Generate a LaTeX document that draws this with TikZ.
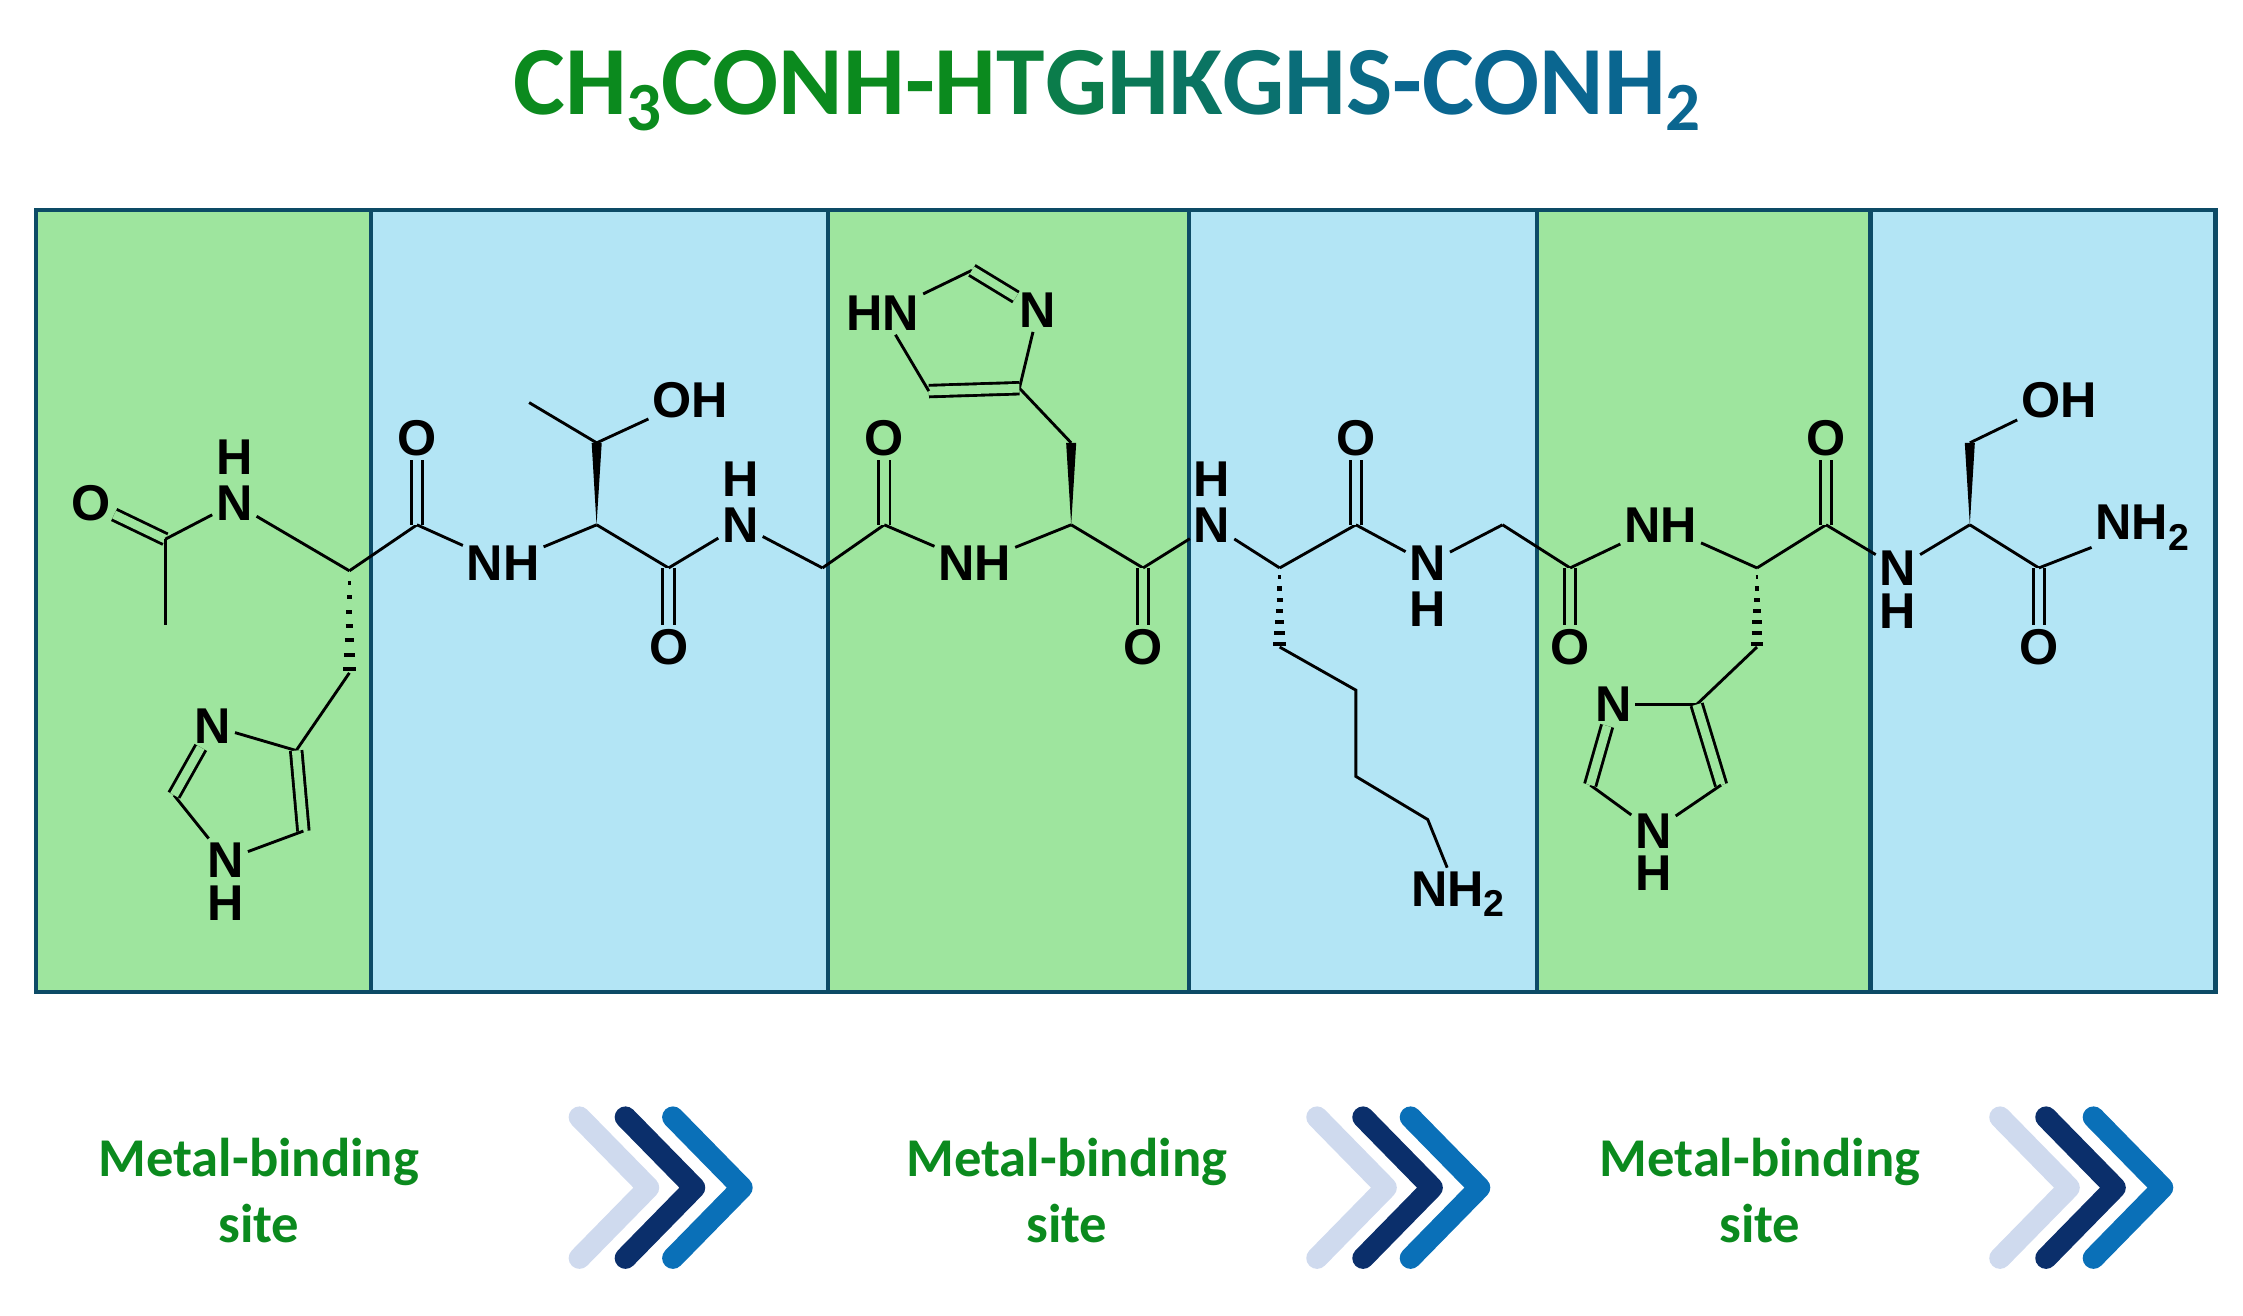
\documentclass[tikz,border=0pt]{standalone}
\usepackage{fontspec}
\usetikzlibrary{calc}
\setmainfont{Carlito}
\newfontfamily\chemf{Liberation Sans}
\definecolor{pg}{HTML}{9EE59E}
\definecolor{pb}{HTML}{B3E5F5}
\definecolor{frame}{HTML}{0D4B66}
\definecolor{tg}{HTML}{0B8A1E}
\definecolor{tb}{HTML}{0A6690}
\definecolor{chl}{HTML}{CFDAEE}
\definecolor{chn}{HTML}{0B2F6B}
\definecolor{chb}{HTML}{0A70B8}
\newcommand{\tl}[2]{{\color{tg!#1!tb}#2}}
\newcommand{\tsub}[2]{{\color{tg!#1!tb}\raisebox{-0.35ex}{\fontsize{24}{24}\selectfont #2}}}
\begin{document}
\begin{tikzpicture}[x=0.5pt,y=-0.5pt,
  bond/.style={line width=1pt,black},
  lbl/.style={font=\chemf\bfseries\fontsize{17.5}{17.5}\selectfont,inner sep=1.2pt},
  dg/.style={bond,double=pg,double distance=3pt},
  db/.style={bond,double=pb,double distance=3pt},
  chev/.style={line width=7.5pt,line cap=round,line join=round},
  site/.style={font=\bfseries\fontsize{19}{23}\selectfont,text=tg,align=center}]
\useasboundingbox (0,0) rectangle (1560,915);
% panels
\fill[pg] (25,146) rectangle (258,690);
\fill[pb] (258,146) rectangle (576,690);
\fill[pg] (576,146) rectangle (827,690);
\fill[pb] (827,146) rectangle (1069,690);
\fill[pg] (1069,146) rectangle (1301,690);
\fill[pb] (1301,146) rectangle (1541,690);
\draw[frame,line width=1.6pt] (25,146) rectangle (1541,690);
\foreach \x in {258,576,827,1069,1301} \draw[frame,line width=1.6pt] (\x,146) -- (\x,690);
% title
\node[font=\bfseries\fontsize{34}{40}\selectfont,inner sep=0] (title) at (770,63)
 {\tl{100}{CH}\tsub{100}{3}\tl{100}{CONH-H}\tl{75}{T}\tl{60}{G}\tl{50}{H}\tl{40}{K}\tl{30}{G}\tl{20}{H}\tl{10}{S}\tl{0}{-CONH}\tsub{0}{2}};
% ---------- labels ----------
\node[lbl] (o0) at (63,350) {O};
\node[lbl] (n1) at (163,350) {N};
\node[lbl] (h1) at (163,318) {H};
\node[lbl] (o1) at (290,305) {O};
\node[lbl] (n2) at (350,392) {NH};
\node[lbl] (oh2) at (480,278) {OH};
\node[lbl] (o2) at (465,450) {O};
\node[lbl] (n3) at (515,365) {N};
\node[lbl] (h3) at (515,333) {H};
\node[lbl] (o3) at (615,305) {O};
\node[lbl] (n4) at (678,392) {NH};
\node[lbl] (o4) at (795,450) {O};
\node[lbl] (n5) at (843,365) {N};
\node[lbl] (h5) at (843,333) {H};
\node[lbl] (o5) at (943,305) {O};
\node[lbl] (n6) at (993,392) {N};
\node[lbl] (h6) at (993,424) {H};
\node[lbl] (o6) at (1092,450) {O};
\node[lbl] (n7) at (1155,365) {NH};
\node[lbl] (o7) at (1270,305) {O};
\node[lbl] (n8) at (1320,395) {N};
\node[lbl] (h8) at (1320,425) {H};
\node[lbl] (oh8) at (1432,278) {OH};
\node[lbl] (o8) at (1418,450) {O};
\node[lbl] (nh8) at (1490,367) {NH\raisebox{-0.4ex}{\fontsize{13}{13}\selectfont 2}};
\node[lbl] (nk) at (1014,622) {NH\raisebox{-0.4ex}{\fontsize{13}{13}\selectfont 2}};
% ring labels
\node[lbl] (r1n3) at (148,505) {N};
\node[lbl] (r1n1) at (157,598) {N};
\node[lbl] (r1h) at (157,628) {H};
\node[lbl] (r2n1) at (614,218) {HN};
\node[lbl] (r2n3) at (722,216) {N};
\node[lbl] (r3n3) at (1122,490) {N};
\node[lbl] (r3n1) at (1150,578) {N};
\node[lbl] (r3h) at (1150,607) {H};
% ---------- carbons ----------
\coordinate (c0) at (115,375);
\coordinate (me) at (115,435);
\coordinate (a1) at (243,397);
\coordinate (hb1) at (243,468);
\coordinate (c1) at (290,365);
\coordinate (a2) at (415,365);
\coordinate (b2) at (415,308);
\coordinate (g2) at (368,280);
\coordinate (c2) at (465,395);
\coordinate (a3) at (572,395);
\coordinate (c3) at (615,365);
\coordinate (a4) at (745,365);
\coordinate (b4) at (745,308);
\coordinate (c4) at (795,395);
\coordinate (a5) at (890,395);
\coordinate (hb5) at (890,450);
\coordinate (k1) at (943,480);
\coordinate (k2) at (943,540);
\coordinate (k3) at (993,570);
\coordinate (c5) at (943,365);
\coordinate (a6) at (1045,365);
\coordinate (c6) at (1092,395);
\coordinate (a7) at (1222,395);
\coordinate (hb7) at (1222,450);
\coordinate (c7) at (1270,365);
\coordinate (a8) at (1370,365);
\coordinate (b8) at (1370,308);
\coordinate (c8) at (1418,395);
% ring carbons
\coordinate (r1c4) at (206,522);
\coordinate (r1c5) at (211,578);
\coordinate (r1c2) at (121,553);
\coordinate (r2c2) at (676,188);
\coordinate (r2c4) at (709,270);
\coordinate (r2c5) at (646,272);
\coordinate (r3c4) at (1180,490);
\coordinate (r3c5) at (1197,546);
\coordinate (r3c2) at (1106,546);
% ---------- bonds ----------
\draw[dg] (c0) -- (o0);
\draw[bond] (c0) -- (me);
\draw[bond] (c0) -- (n1);
\draw[bond] (n1) -- (a1);
\draw[bond] (a1) -- (c1);
\draw[db] (c1) -- (o1);
\draw[bond] (c1) -- (n2);
\draw[bond] (n2) -- (a2);
\draw[bond] (a2) -- (c2);
\draw[db] (c2) -- (o2);
\draw[bond] (c2) -- (n3);
\draw[bond] (n3) -- (a3);
\draw[bond] (a3) -- (c3);
\draw[dg] (c3) -- (o3);
\draw[bond] (c3) -- (n4);
\draw[bond] (n4) -- (a4);
\draw[bond] (a4) -- (c4);
\draw[dg] (c4) -- (o4);
\draw[bond] (c4) -- (n5);
\draw[bond] (n5) -- (a5);
\draw[bond] (a5) -- (c5);
\draw[db] (c5) -- (o5);
\draw[bond] (c5) -- (n6);
\draw[bond] (n6) -- (a6);
\draw[bond] (a6) -- (c6);
\draw[dg] (c6) -- (o6);
\draw[bond] (c6) -- (n7);
\draw[bond] (n7) -- (a7);
\draw[bond] (a7) -- (c7);
\draw[dg] (c7) -- (o7);
\draw[bond] (c7) -- (n8);
\draw[bond] (n8) -- (a8);
\draw[bond] (a8) -- (c8);
\draw[db] (c8) -- (o8);
\draw[bond] (c8) -- (nh8);
% Thr side chain
\fill ($(a2)+(-0.1,0)$) -- ($(b2)+(-3.5,0)$) -- ($(b2)+(3.5,0)$) -- cycle;
\draw[bond] (b2) -- (g2);
\draw[bond] (b2) -- (oh2);
% His4 side chain
\fill (a4) -- ($(b4)+(-3.5,0)$) -- ($(b4)+(3.5,0)$) -- cycle;
\draw[bond] (b4) -- (r2c4);
% Ser side chain
\fill (a8) -- ($(b8)+(-3.5,0)$) -- ($(b8)+(3.5,0)$) -- cycle;
\draw[bond] (b8) -- (oh8);
% hashed bonds
\foreach \s/\e in {a1/hb1,a5/hb5,a7/hb7}{
  \foreach \t in {0.12,0.26,...,1.0}{
    \draw[line width=1.4pt] ($(\s)!\t!(\e)+(-4*\t-0.5,0)$) -- ($(\s)!\t!(\e)+(4*\t+0.5,0)$);
  }
}
\draw[bond] (hb1) -- (r1c4);
\draw[bond] (hb5) -- (k1) -- (k2) -- (k3) -- (nk);
\draw[bond] (hb7) -- (r3c4);
% ring 1
\draw[bond] (r1n3) -- (r1c4);
\draw[dg] (r1c4) -- (r1c5);
\draw[bond] (r1c5) -- (r1n1);
\draw[bond] (r1n1) -- (r1c2);
\draw[dg] (r1c2) -- (r1n3);
% ring 2
\draw[bond] (r2n1) -- (r2c2);
\draw[dg] (r2c2) -- (r2n3);
\draw[bond] (r2n3) -- (r2c4);
\draw[dg] (r2c4) -- (r2c5);
\draw[bond] (r2c5) -- (r2n1);
% ring 3
\draw[bond] (r3n3) -- (r3c4);
\draw[dg] (r3c4) -- (r3c5);
\draw[bond] (r3c5) -- (r3n1);
\draw[bond] (r3n1) -- (r3c2);
\draw[dg] (r3c2) -- (r3n3);
% ---------- bottom ----------
\node[site] (s1) at (180,828) {Metal-binding\\site};
\node[site] (s2) at (742,828) {Metal-binding\\site};
\node[site] (s3) at (1224,828) {Metal-binding\\site};
\foreach \x [count=\i] in {403,916,1391}{
  \coordinate (ch\i) at (\x,777);
  \draw[chev,chl] (ch\i) -- ++(48,49) -- ++(-48,49);
  \draw[chev,chn] ($(ch\i)+(32,0)$) -- ++(48,49) -- ++(-48,49);
  \draw[chev,chb] ($(ch\i)+(65,0)$) -- ++(48,49) -- ++(-48,49);
}
\end{tikzpicture}
\end{document}
